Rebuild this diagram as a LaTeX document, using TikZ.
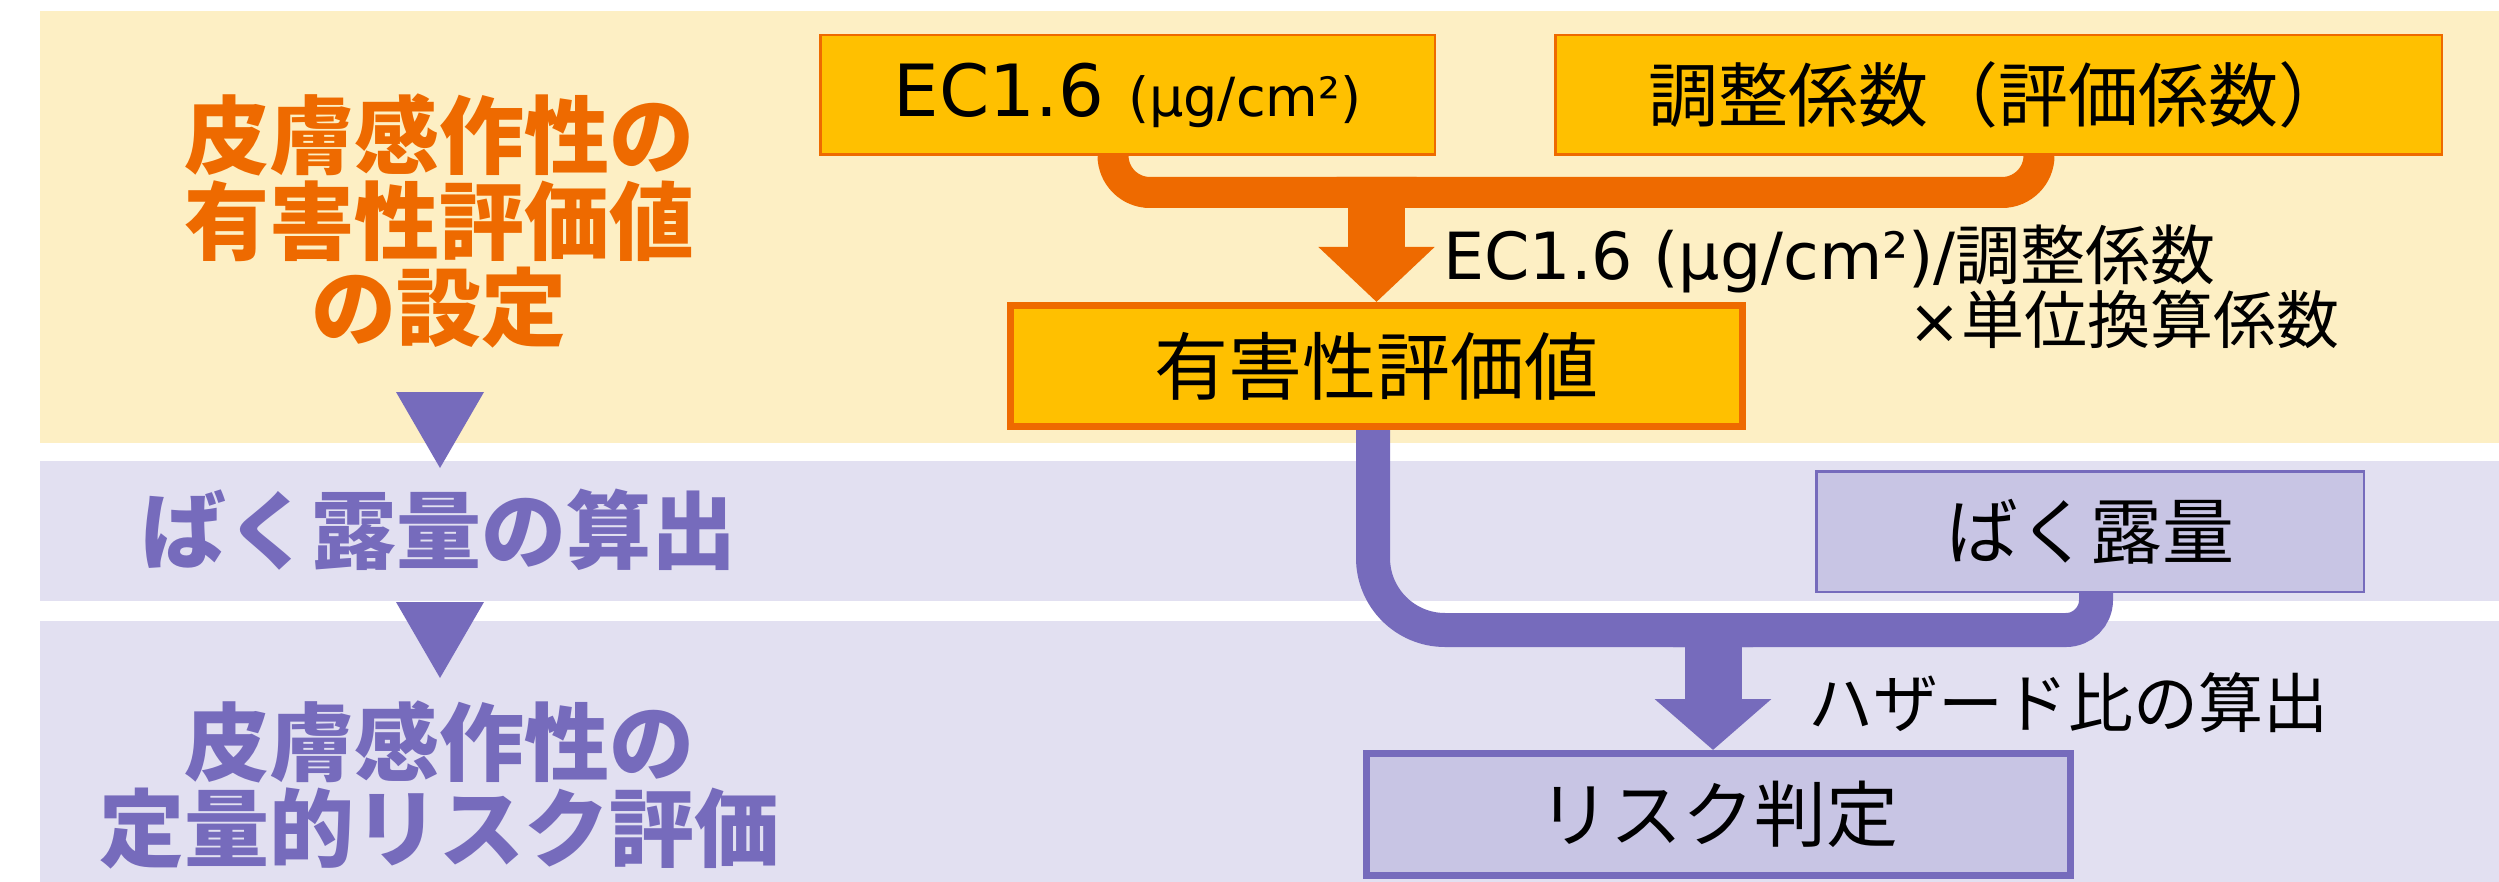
\documentclass[tikz,border=0pt]{standalone}
\usepackage{fontspec}
\setmainfont{DejaVu Sans}
\newfontfamily\jp{Noto Sans CJK JP}
\usetikzlibrary{arrows.meta,calc}
\pgfdeclarelayer{bands}
\pgfdeclarelayer{conn}
\pgfsetlayers{bands,conn,main}
\definecolor{orA}{HTML}{EE6A00}
\definecolor{puA}{HTML}{766BBC}
\definecolor{bandY}{HTML}{FDEFC4}
\definecolor{bandL}{HTML}{E2E0F1}
\definecolor{boxY}{HTML}{FFC000}
\definecolor{boxL}{HTML}{C8C5E4}
\tikzset{
  hdO/.style={text=orA, font=\jp\bfseries\fontsize{85}{86}\selectfont, align=center, inner sep=0pt},
  hdP/.style={text=puA, font=\jp\bfseries\fontsize{85}{86}\selectfont, align=center, inner sep=0pt},
  ybox/.style={draw=orA, fill=boxY, line width=2.5pt, inner sep=0pt},
  lbox/.style={draw=puA, fill=boxL, line width=2.5pt, inner sep=0pt},
  oline/.style={draw=orA, line width=31pt},
  pline/.style={draw=puA, line width=34pt},
  lbl/.style={inner sep=0pt, anchor=west},
  tri/.style={fill=puA, draw=none}
}
\begin{document}
\begin{tikzpicture}[x=1pt,y=-1pt]
\useasboundingbox (0,0) rectangle (2499,882);
% bands
\begin{pgfonlayer}{bands}
\fill[bandY] (40,11) rectangle (2499,443);
\fill[bandL] (40,461) rectangle (2499,601);
\fill[bandL] (40,621) rectangle (2499,882);
\end{pgfonlayer}

% left headings
\node[hdO] (h1) at (439,221) {皮膚感作性の\\有害性評価値\\の設定};
\node[hdP] (h2) at (439,530) {ばく露量の算出};
\node[hdP] (h3) at (439,785) {皮膚感作性の\\定量的リスク評価};
\fill[tri] (396,392) -- (484,392) -- (440,468) -- cycle;
\fill[tri] (396,602) -- (484,602) -- (440,678) -- cycle;

% boxes
\node[ybox, minimum width=614.5pt, minimum height=119.5pt] (ec) at (1127.5,95)
  {{\fontsize{72}{80}\selectfont EC1.6}\hspace{24pt}{\fontsize{54}{60}\selectfont (μg/cm²)}};
\node[ybox, minimum width=886.5pt, minimum height=119.5pt] (adj) at (1998.5,95)
  {\jp\fontsize{70}{80}\selectfont 調整係数（評価係数）};
\node[ybox, line width=7pt, minimum width=732pt, minimum height=121pt] (hv) at (1376.5,366)
  {\jp\fontsize{74}{80}\selectfont 有害性評価値};
\node[lbox, minimum width=547.5pt, minimum height=120.5pt] (bak) at (2090,531.5)
  {\jp\fontsize{72}{80}\selectfont ばく露量};
\node[lbox, line width=7pt, minimum width=704pt, minimum height=122pt] (risk) at (1718.5,814.5)
  {\jp\fontsize{72}{80}\selectfont リスク判定};

\coordinate (j1) at (1376.5,192.5);
\coordinate (j2) at (1713,630);

\begin{pgfonlayer}{conn}
% orange connector
\draw[oline, rounded corners=37pt] ($(ec.south)+(-14.5,0)$) |- ($(j1)+(40,0)$);
\draw[oline, rounded corners=37pt] ($(adj.south)+(40.5,0)$) |- ($(j1)+(-40,0)$);
\draw[orA, line width=57pt, -{Triangle[width=113pt,length=55pt]}] ($(j1)+(0,8)$) -- (hv.north);
% purple connector
\draw[pline, rounded corners=72pt] ($(hv.south)+(-3.5,0)$) |- ($(j2)+(40,0)$);
\draw[pline, rounded corners=30pt] ($(bak.south)+(6,0)$) |- ($(j2)+(-40,0)$);
\draw[puA, line width=57pt, -{Triangle[width=114pt,length=51pt]}] ($(j2)+(0,8)$) -- (j2 |- risk.north);
\end{pgfonlayer}

% labels
\node[lbl] (l1) at (1443,259) {\fontsize{65}{70}\selectfont EC1.6 (μg/cm²)/{\jp 調整係数}};
\node[lbl] (l2) at (1908,319) {\fontsize{63}{70}\selectfont ×{\jp 単位換算係数}};
\node[lbl] (l3) at (1808,703) {\jp\fontsize{65}{75}\selectfont ハザード比の算出};
\end{tikzpicture}
\end{document}
